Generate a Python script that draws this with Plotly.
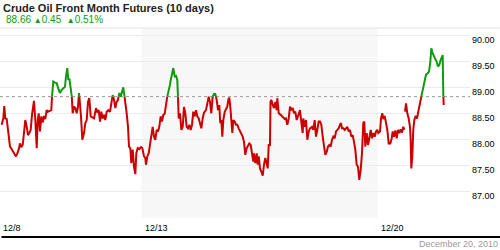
import plotly.graph_objects as go

# ---- data (x = trading-day index, 0 = 12/8) ----
day_labels = ["12/8", "12/13", "12/20"]
day_label_pos = [0, 3, 8]
shade_days = [3, 8]
ref_price = 88.82
y_ticks = [86.5, 87.0, 87.5, 88.0, 88.5, 89.0, 89.5, 90.0]
y_ticktext = ["", "87.00", "87.50", "88.00", "88.50", "89.00", "89.50", "90.00"]

times = [
    0.036, 0.07, 0.091, 0.112, 0.142, 0.169, 0.212, 0.254, 0.297, 0.339, 0.367, 0.396,
    0.424, 0.451, 0.481, 0.508, 0.536, 0.566, 0.593, 0.621, 0.65, 0.678, 0.72, 0.748,
    0.778, 0.799, 0.82, 0.847, 0.875, 0.905, 0.932, 0.96, 0.989, 1.017, 1.059, 1.087,
    1.102, 1.129, 1.165, 1.201, 1.235, 1.271, 1.307, 1.341, 1.377, 1.398, 1.426, 1.447,
    1.468, 1.498, 1.519, 1.54, 1.568, 1.595, 1.625, 1.653, 1.674, 1.695, 1.716, 1.744,
    1.78, 1.807, 1.837, 1.864, 1.892, 1.922, 1.992, 2.034, 2.061, 2.091, 2.119, 2.146,
    2.176, 2.203, 2.231, 2.261, 2.294, 2.331, 2.358, 2.388, 2.415, 2.443, 2.472, 2.5,
    2.528, 2.557, 2.585, 2.612, 2.633, 2.663, 2.684, 2.712, 2.733, 2.761, 2.782, 2.811,
    2.839, 2.867, 2.888, 2.917, 2.951, 2.987, 3.015, 3.051, 3.078, 3.093, 3.121, 3.15,
    3.178, 3.206, 3.235, 3.263, 3.29, 3.32, 3.347, 3.375, 3.405, 3.432, 3.46, 3.489,
    3.517, 3.544, 3.574, 3.602, 3.617, 3.644, 3.672, 3.701, 3.729, 3.756, 3.771, 3.786,
    3.814, 3.841, 3.871, 3.898, 3.926, 3.955, 3.983, 4.011, 4.04, 4.068, 4.095, 4.125,
    4.153, 4.18, 4.21, 4.237, 4.265, 4.294, 4.322, 4.364, 4.392, 4.422, 4.449, 4.477,
    4.506, 4.534, 4.561, 4.591, 4.619, 4.646, 4.667, 4.689, 4.71, 4.731, 4.761, 4.788,
    4.816, 4.837, 4.858, 4.879, 4.9, 4.922, 4.943, 4.972, 5.0, 5.028, 5.057, 5.085,
    5.112, 5.142, 5.169, 5.197, 5.227, 5.254, 5.282, 5.311, 5.339, 5.367, 5.381, 5.409,
    5.439, 5.46, 5.481, 5.508, 5.536, 5.566, 5.593, 5.621, 5.65, 5.672, 5.693, 5.72,
    5.731, 5.748, 5.778, 5.805, 5.833, 5.862, 5.875, 5.905, 5.947, 5.989, 6.032, 6.059,
    6.087, 6.117, 6.144, 6.172, 6.201, 6.229, 6.256, 6.286, 6.314, 6.341, 6.356, 6.383,
    6.413, 6.426, 6.455, 6.483, 6.511, 6.54, 6.568, 6.61, 6.638, 6.667, 6.695, 6.722,
    6.752, 6.78, 6.807, 6.837, 6.864, 6.892, 6.922, 6.949, 6.977, 7.006, 7.034, 7.061,
    7.091, 7.119, 7.146, 7.176, 7.203, 7.225, 7.246, 7.273, 7.303, 7.331, 7.358, 7.388,
    7.415, 7.443, 7.472, 7.5, 7.528, 7.557, 7.585, 7.612, 7.642, 7.669, 7.697, 7.718,
    7.739, 7.769, 7.797, 7.824, 7.854, 7.881, 7.909, 7.939, 7.966, 7.994, 8.015, 8.051,
    8.072, 8.099, 8.121, 8.15, 8.178, 8.206, 8.235, 8.269, 8.299, 8.32, 8.347, 8.375,
    8.405, 8.432, 8.46, 8.489, 8.517, 8.544, 8.566, None,
    8.581, 8.602, 8.629, 8.659, 8.686, 8.701, 8.714, 8.735, 8.756, 8.778, 8.807, 8.835,
    8.862, 8.898, 8.926, 8.955, 8.989, 9.025, 9.061, 9.089, 9.117, 9.138, 9.167, 9.195,
    9.222, 9.252, 9.28, 9.307, 9.337, 9.364, 9.379, 9.392, 9.4,
]

prices = [
    88.28, 88.40, 88.64, 88.40, 88.39, 88.21, 87.86, 87.80, 87.72, 87.67, 87.73, 87.80,
    87.92, 87.85, 87.89, 88.12, 88.37, 88.24, 88.08, 88.12, 88.18, 88.47, 88.74, 88.37,
    87.83, 88.37, 88.50, 88.15, 88.44, 88.32, 88.45, 88.39, 88.56, 88.53, 88.55, 88.56,
    88.82, 89.11, 89.09, 89.08, 88.98, 88.89, 88.95, 88.98, 89.01, 89.21, 89.37, 89.14,
    89.17, 88.98, 88.85, 88.50, 88.63, 88.60, 88.50, 88.63, 88.89, 88.69, 88.44, 87.99,
    88.12, 88.31, 88.37, 88.72, 88.79, 88.44, 88.40, 88.60, 88.53, 88.56, 88.34, 88.53,
    88.40, 88.47, 88.37, 88.53, 88.56, 88.53, 88.72, 88.85, 88.76, 88.60, 88.72, 88.76,
    88.89, 88.82, 88.89, 89.00, 88.85, 88.69, 88.50, 88.24, 87.86, 87.83, 87.54, 87.80,
    87.47, 87.33, 87.73, 87.83, 87.81, 87.85, 87.83, 87.67, 87.64, 87.51, 87.67, 87.73,
    87.89, 88.12, 88.24, 88.05, 87.99, 88.18, 88.15, 88.24, 88.44, 88.34, 88.47, 88.49,
    88.63, 88.82, 88.92, 89.05, 89.14, 89.24, 89.37, 89.21, 89.22, 89.14, 88.82, 88.40,
    88.50, 88.18, 88.24, 88.62, 88.50, 88.24, 88.21, 88.28, 88.18, 88.28, 88.53, 88.44,
    88.56, 88.44, 88.40, 88.31, 88.21, 88.40, 88.51, 88.56, 88.72, 88.82, 88.72, 88.50,
    88.82, 88.87, 88.87, 88.76, 88.56, 88.66, 88.31, 88.37, 88.05, 88.37, 88.53, 88.60,
    88.63, 88.76, 88.80, 88.63, 88.31, 88.12, 88.37, 88.34, 88.28, 88.28, 88.21, 88.15,
    88.12, 88.05, 87.95, 87.70, 87.83, 87.89, 87.92, 87.89, 87.67, 87.57, 87.73, 87.54,
    87.73, 87.51, 87.67, 87.44, 87.38, 87.30, 87.51, 87.64, 87.54, 87.44, 87.89, 87.89,
    88.72, 88.76, 88.66, 88.60, 88.72, 88.56, 88.79, 88.50, 88.47, 88.42, 88.39, 88.40,
    88.28, 88.40, 88.63, 88.56, 88.60, 88.50, 88.53, 88.37, 88.44, 88.53, 88.56, 88.34,
    88.12, 88.40, 88.24, 88.37, 87.99, 88.15, 88.21, 88.24, 88.18, 88.37, 88.05, 88.18,
    88.34, 88.34, 88.28, 88.05, 87.89, 87.70, 87.76, 87.86, 87.89, 87.86, 87.99, 88.05,
    88.02, 88.15, 88.18, 88.21, 88.28, 88.31, 88.21, 88.21, 88.18, 88.21, 88.24, 88.15,
    88.18, 88.05, 88.08, 87.95, 87.80, 87.51, 87.47, 87.22, 87.41, 87.73, 88.31, 88.34,
    87.86, 88.12, 87.89, 88.02, 88.18, 88.02, 88.12, 88.05, 88.15, 88.18, 88.12, 88.15,
    88.40, 88.50, 88.39, 88.45, 88.34, 88.18, 87.92, 87.92, 88.02, 88.15, 88.05, 88.17,
    88.02, 88.18, 88.12, 88.19, 88.13, 88.24, 88.18, None,
    88.53, 88.69, 88.50, 88.40, 88.24, 87.99, 87.44, 87.67, 88.18, 88.37, 88.45, 88.40,
    88.53, 88.72, 88.82, 88.95, 89.08, 89.24, 89.27, 89.30, 89.49, 89.75, 89.65, 89.60,
    89.56, 89.49, 89.40, 89.43, 89.53, 89.59, 89.62, 88.85, 88.66,
]

last_price = "88.66"
change = "0.45"
change_pct = "0.51%"
title = "Crude Oil Front Month Futures (10 days)"
date_text = "December 20, 2010"

RED = "#cc0000"
GREEN = "#0f9a0f"

# ---- split line into above/below reference segments ----
def split(xs, ys, thr):
    out = {True: ([], []), False: ([], [])}

    def add(side, x0, y0, x1, y1):
        lx, ly = out[side]
        if lx and lx[-1] == x0 and ly[-1] == y0:
            lx.append(x1); ly.append(y1)
        else:
            if lx:
                lx.append(None); ly.append(None)
            lx.extend([x0, x1]); ly.extend([y0, y1])

    for i in range(len(xs) - 1):
        x0, y0, x1, y1 = xs[i], ys[i], xs[i + 1], ys[i + 1]
        if None in (x0, y0, x1, y1):
            continue
        a0, a1 = y0 > thr, y1 > thr
        if a0 == a1:
            add(a0, x0, y0, x1, y1)
        else:
            xc = x0 + (thr - y0) / (y1 - y0) * (x1 - x0)
            add(a0, x0, y0, xc, thr)
            add(a1, xc, thr, x1, y1)
    return out

parts = split(times, prices, ref_price)

fig = go.Figure()
fig.add_trace(go.Scatter(x=parts[False][0], y=parts[False][1], mode="lines",
                         line=dict(color=RED, width=2), hoverinfo="skip", connectgaps=False))
fig.add_trace(go.Scatter(x=parts[True][0], y=parts[True][1], mode="lines",
                         line=dict(color=GREEN, width=2), hoverinfo="skip", connectgaps=False))

PLOT_TOP, PLOT_BOT = 28, 218
H = PLOT_BOT - PLOT_TOP
PLOT_W = 470

def py(pix):
    return (PLOT_BOT - pix) / H

def px(pix):
    return pix / PLOT_W

shapes = [
    dict(type="rect", xref="x", yref="paper", x0=shade_days[0], x1=shade_days[1], y0=0, y1=1,
         fillcolor="#f7f7f7", line=dict(width=0), layer="below"),
    dict(type="line", xref="paper", yref="y", x0=0, x1=1, y0=ref_price, y1=ref_price,
         line=dict(color="#999999", width=1, dash="3px,3px"), layer="below"),
    dict(type="line", xref="paper", yref="paper", x0=0, x1=px(500), y0=1, y1=1,
         line=dict(color="#e6e6e6", width=1)),
    dict(type="line", xref="paper", yref="paper", x0=px(1.5), x1=px(500), y0=py(237), y1=py(237),
         line=dict(color="#000000", width=2)),
]

annotations = [
    dict(text="<b>" + title + "</b>", xref="paper", yref="paper", x=px(1), y=py(8),
         xanchor="left", yanchor="middle", showarrow=False,
         font=dict(family="Arial", size=11, color="#222222")),
    dict(text=(last_price + " <span style='font-size:8px'>▲</span>" + change +
               "  <span style='font-size:8px'>▲</span>" + change_pct),
         xref="paper", yref="paper", x=px(4), y=py(19.5),
         xanchor="left", yanchor="middle", showarrow=False,
         font=dict(family="Arial", size=10, color=GREEN)),
    dict(text=date_text, xref="paper", yref="paper", x=px(500), y=py(244.5),
         xanchor="right", yanchor="middle", showarrow=False,
         font=dict(family="Arial", size=9, color="#999999")),
]
for lab, pos in zip(day_labels, day_label_pos):
    annotations.append(dict(text=lab, xref="x", yref="paper", x=pos, y=py(227.5),
                            xanchor="left", yanchor="middle", xshift=1, showarrow=False,
                            font=dict(family="Arial", size=9, color="#000000")))

fig.update_layout(
    width=500, height=250,
    margin=dict(l=0, r=500 - PLOT_W, t=PLOT_TOP, b=250 - PLOT_BOT, pad=0),
    paper_bgcolor="white", plot_bgcolor="rgba(0,0,0,0)",
    showlegend=False,
    shapes=shapes,
    annotations=annotations,
    xaxis=dict(range=[0, PLOT_W / 47.2], showgrid=False, zeroline=False,
               showticklabels=False, ticks="", fixedrange=True),
    yaxis=dict(range=[86.486, 90.14], side="right", tickvals=y_ticks, ticktext=y_ticktext,
               showgrid=True, gridcolor="#ebebeb", gridwidth=1, zeroline=False,
               ticks="", ticklabelshift=5, ticklabelstandoff=1,
               tickfont=dict(family="Arial", size=9, color="#000000")),
)

fig.write_html("out.html")
